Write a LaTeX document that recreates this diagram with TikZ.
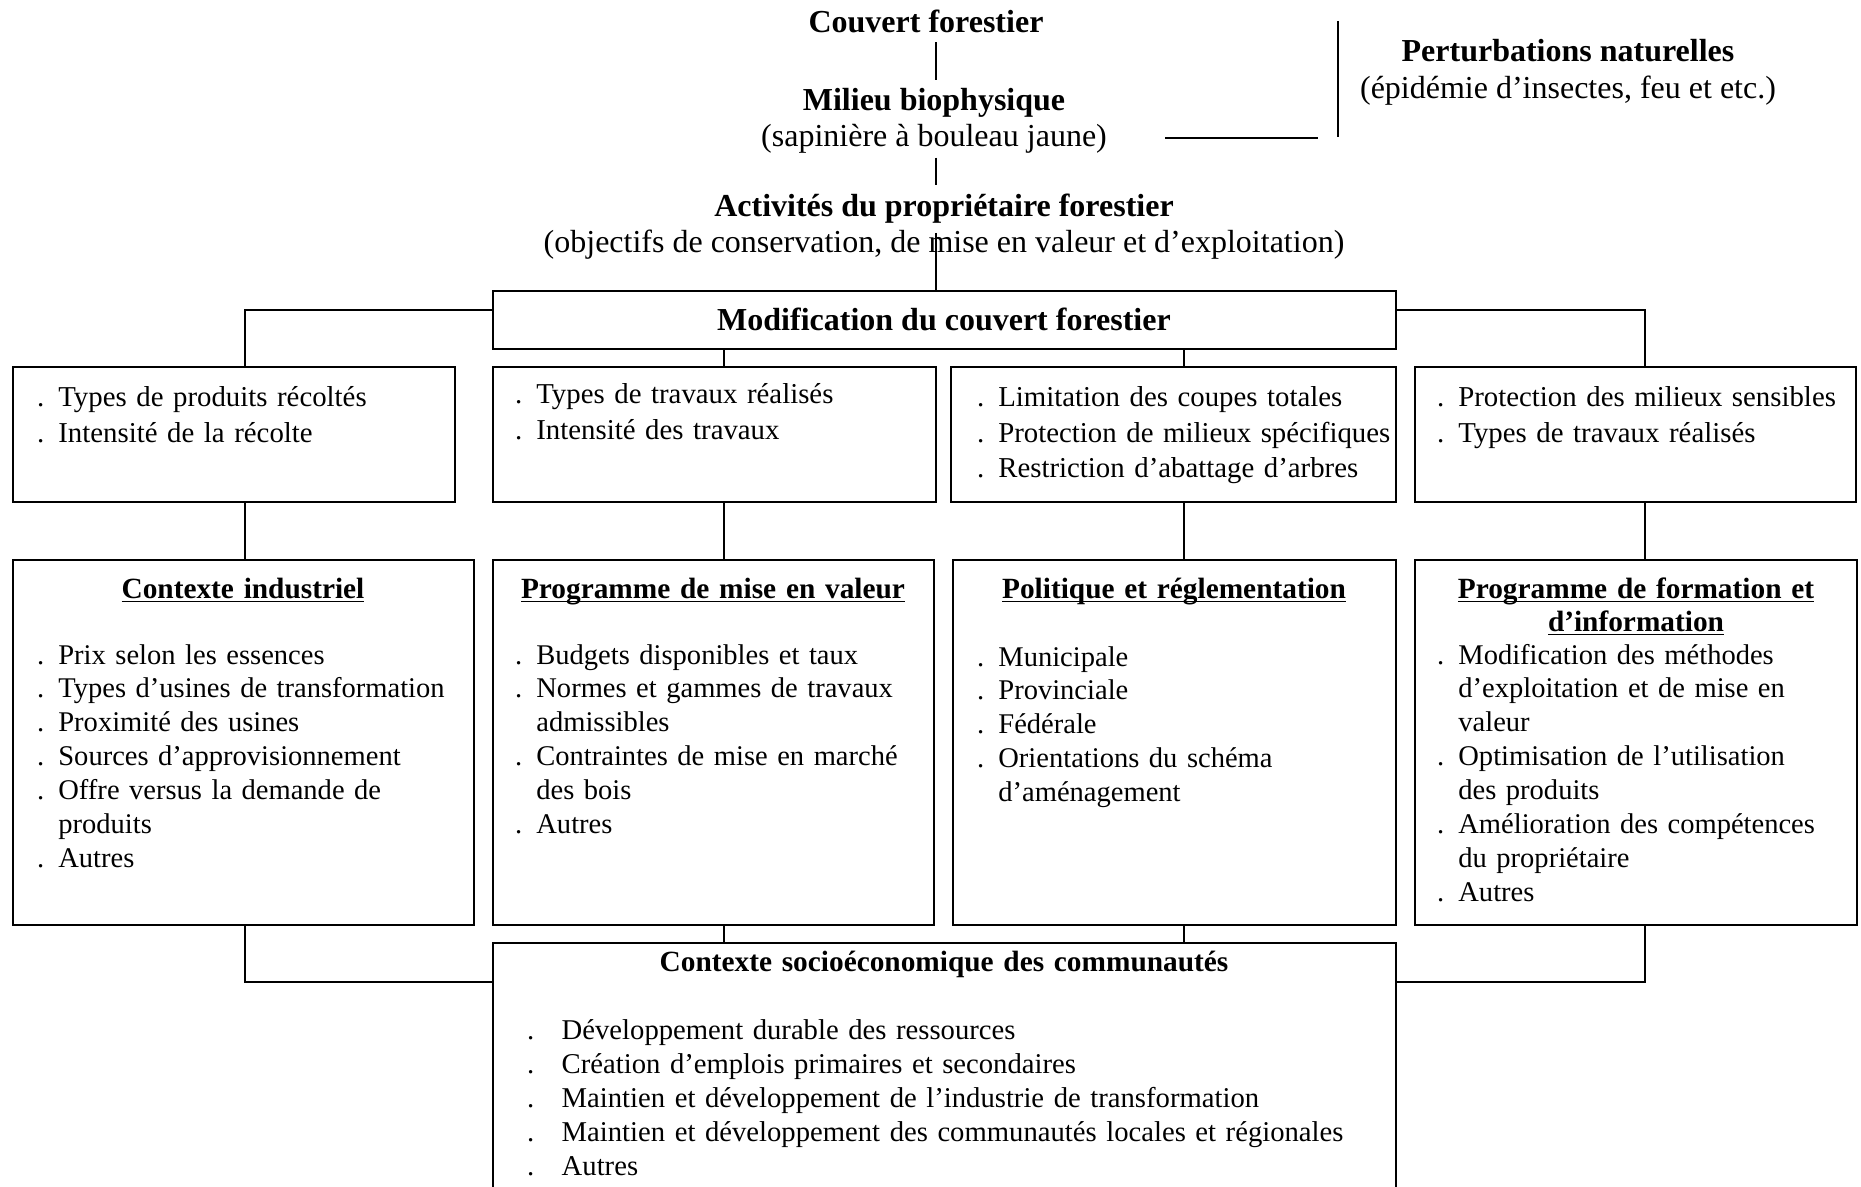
\documentclass[tikz,border=0pt]{standalone}
\usepackage{fontspec}
\setmainfont{Liberation Serif}
\usetikzlibrary{fit}
\newcommand{\pitem}[2][8pt]{\noindent\hangindent=#1\hangafter=1\makebox[#1][l]{.}#2\par}
\newcommand{\uhead}[1]{\underline{\smash{#1}}}

\begin{document}
\begin{tikzpicture}[x=0.375pt, y=-0.375pt, line width=0.8pt,
    box/.style={draw, inner sep=0pt},
    ttl/.style={anchor=base, inner sep=3pt, font=\fontsize{12}{13.5}\selectfont\bfseries},
    sub/.style={anchor=base, inner sep=1pt, font=\fontsize{12}{13.5}\selectfont},
    lst/.style={anchor=base west, inner sep=0pt, align=left, text width=165pt, font=\fontsize{10.7}{12.7}\selectfont},
    head/.style={anchor=base, inner sep=0pt, align=center, text width=170pt, font=\fontsize{11}{12.4}\selectfont\bfseries}]
\useasboundingbox (0,0) rectangle (1861,1187);
\clip (0,0) rectangle (1861,1187);

% en-tete
\node[ttl] (cf) at (926,33) {Couvert forestier};
\node[ttl] (mb) at (934,111) {Milieu biophysique};
\node[sub] (mbs) at (934,147) {(sapinière à bouleau jaune)};
\node[ttl] (act) at (944,217) {Activités du propriétaire forestier};
\node[sub] (acts) at (944,253) {(objectifs de conservation, de mise en valeur et d'exploitation)};
\node[ttl] (pn) at (1568,62) {Perturbations naturelles};
\node[sub] (pns) at (1568,99) {(épidémie d'insectes, feu et etc.)};

% boites
\node[box, fit={(493,291) (1396,349)}] (mod) {};
\node[ttl] (modt) at (944,331) {Modification du couvert forestier};
\node[box, fit={(13,367) (455,502)}] (b1) {};
\node[box, fit={(493,367) (936,502)}] (b2) {};
\node[box, fit={(951,367) (1396,502)}] (b3) {};
\node[box, fit={(1415,367) (1856,502)}] (b4) {};
\node[box, fit={(13,560) (474,925)}] (c1) {};
\node[box, fit={(493,560) (934,925)}] (c2) {};
\node[box, fit={(953,560) (1396,925)}] (c3) {};
\node[box, fit={(1415,560) (1857,925)}] (c4) {};
\node[box, fit={(493,943) (1396,1230)}] (soc) {};

% contenu, rangee 1
\node[lst, font=\fontsize{10.8}{13.3}\selectfont] (l1) at (36,407) {\pitem{Types de produits récoltés}\pitem{Intensité de la récolte}};
\node[lst, font=\fontsize{10.8}{13.3}\selectfont] (l2) at (514,404) {\pitem{Types de travaux réalisés}\pitem{Intensité des travaux}};
\node[lst, font=\fontsize{10.8}{13.3}\selectfont] (l3) at (976,407) {\pitem{Limitation des coupes totales}\pitem{Protection de milieux spécifiques}\pitem{Restriction d'abattage d'arbres}};
\node[lst, font=\fontsize{10.8}{13.3}\selectfont] (l4) at (1436,407) {\pitem{Protection des milieux sensibles}\pitem{Types de travaux réalisés}};

% contenu, rangee 2
\node[head] (h1) at (243,598) {\uhead{Contexte industriel}};
\node[head] (h2) at (713,598) {\uhead{Programme de mise en valeur}};
\node[head] (h3) at (1174,598) {\uhead{Politique et réglementation}};
\node[head] (h4) at (1636,598) {\uhead{Programme de formation et}\\\uhead{d'information}};
\node[lst] (m1) at (36,664) {\pitem{Prix selon les essences}\pitem{Types d'usines de transformation}\pitem{Proximité des usines}\pitem{Sources d'approvisionnement}\pitem{Offre versus la demande de\newline produits}\pitem{Autres}};
\node[lst] (m2) at (514,664) {\pitem{Budgets disponibles et taux}\pitem{Normes et gammes de travaux\newline admissibles}\pitem{Contraintes de mise en marché\newline des bois}\pitem{Autres}};
\node[lst] (m3) at (976,666) {\pitem{Municipale}\pitem{Provinciale}\pitem{Fédérale}\pitem{Orientations du schéma\newline d'aménagement}};
\node[lst] (m4) at (1436,664) {\pitem{Modification des méthodes\newline d'exploitation et de mise en\newline valeur}\pitem{Optimisation de l'utilisation\newline des produits}\pitem{Amélioration des compétences\newline du propriétaire}\pitem{Autres}};

% contexte socioeconomique
\node[head, text width=300pt] (soch) at (944,971) {Contexte socioéconomique des communautés};
\node[lst, text width=320pt, font=\fontsize{10.75}{12.75}\selectfont] (socl) at (526,1039) {\pitem[13pt]{Développement durable des ressources}\pitem[13pt]{Création d'emplois primaires et secondaires}\pitem[13pt]{Maintien et développement de l'industrie de transformation}\pitem[13pt]{Maintien et développement des communautés locales et régionales}\pitem[13pt]{Autres}};

% liens
\coordinate (k0) at (936,0);
\coordinate (k1) at (245,0);
\coordinate (k2) at (724,0);
\coordinate (k3) at (1184,0);
\coordinate (k4) at (1645,0);
\coordinate (ml) at (493,310);
\coordinate (mr) at (1396,310);
\coordinate (sl) at (493,982);
\coordinate (sr) at (1396,982);
\draw (cf.south -| k0) -- (mb.north -| k0);
\draw (mbs.south -| k0) -- (act.north -| k0);
\draw (act.south -| k0) -- (mod.north -| k0);
\draw (ml) -| (b1.north -| k1);
\draw (mr) -| (b4.north -| k4);
\draw (mod.south -| k2) -- (b2.north -| k2);
\draw (mod.south -| k3) -- (b3.north -| k3);
\foreach \i in {1,...,4}
  \draw (b\i.south -| k\i) -- (c\i.north -| k\i);
\draw (c1.south -| k1) |- (sl);
\draw (c4.south -| k4) |- (sr);
\draw (c2.south -| k2) -- (soc.north -| k2);
\draw (c3.south -| k3) -- (soc.north -| k3);

% perturbations naturelles
\coordinate (p1) at (1165,138);
\coordinate (p2) at (1318,138);
\coordinate (p3) at (1338,21);
\coordinate (p4) at (1338,137);
\draw (p1) -- (p2);
\draw (p3) -- (p4);
\end{tikzpicture}
\end{document}
